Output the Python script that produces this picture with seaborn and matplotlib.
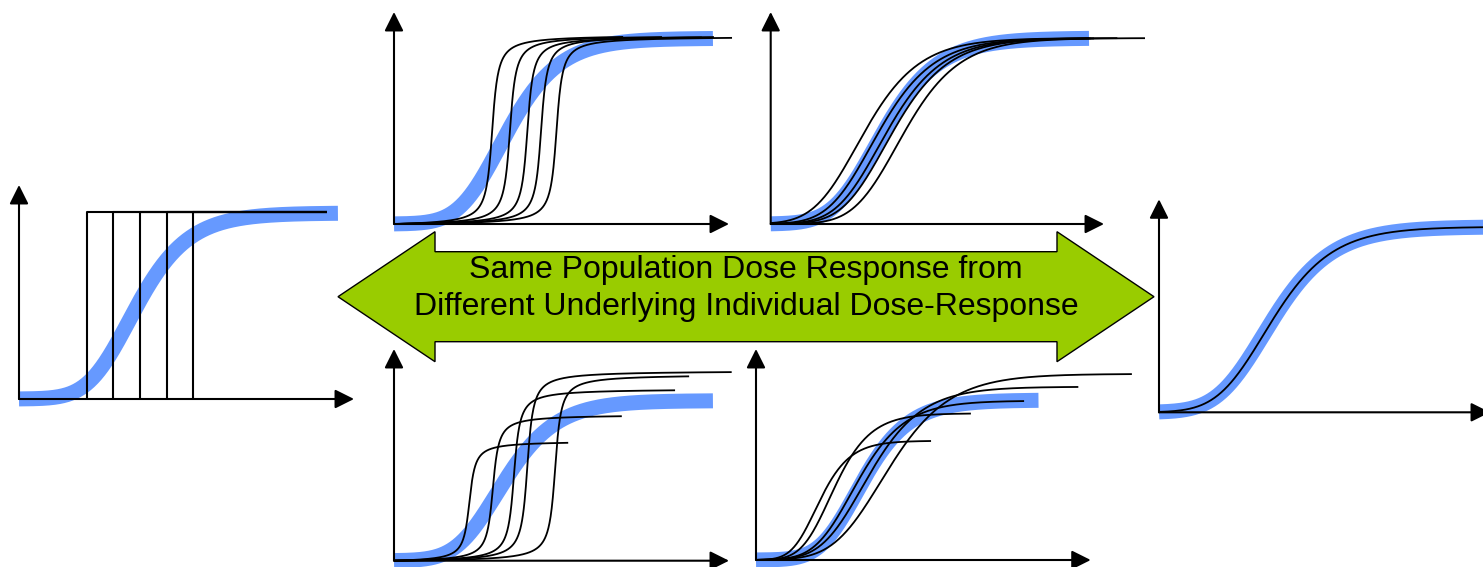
import numpy as np
import matplotlib
matplotlib.use("Agg")
import matplotlib.pyplot as plt
import matplotlib.patches as mpatches
import seaborn as sns

W, H = 1483, 567
BLUE = "#6699FF"
GREEN = "#99CC00"

# panel frames in pixels: origin x, origin y, x-arrow tip, y-arrow tip
panel_names = ["steps", "steep", "shifted", "steep_plateau", "mixed", "single"]
panel_x0 = [19, 394, 770.7, 394, 756, 1159]
panel_y0 = [399, 224, 224, 560.7, 560, 412.3]
panel_xt = [354, 729, 1104, 729, 1090.7, 1490]
panel_yt = [185, 12, 12, 349, 349, 199.3]

# population (blue) curve in each panel, axis units
blue_mid = [0.352, 0.340, 0.340, 0.331, 0.321, 0.344]
blue_s = [0.095, 0.095, 0.10, 0.095, 0.085, 0.11]
blue_top = [0.869, 0.876, 0.877, 0.756, 0.758, 0.871]
blue_end = [0.952, 0.952, 0.955, 0.952, 0.844, 1.0]
blue_nu = 0.3

# panel A: all-or-none individuals
step_u = [0.203, 0.282, 0.361, 0.441, 0.520]
step_top = 0.875
step_end = 0.918

# panel B: steep individuals, same max
b_mid = [0.293, 0.346, 0.398, 0.439, 0.485]
b_top = [0.892, 0.890, 0.887, 0.889, 0.885]
b_end = [0.684, 0.800, 0.919, 0.955, 1.009]
steep_s = 0.013

# panel C: shifted copies of population curve
c_mid = [0.283, 0.326, 0.350, 0.368, 0.403]
c_end = [1.040, 0.955, 0.960, 0.970, 1.123]
c_top = 0.877

# panel D: steep individuals, different max
d_mid = [0.225, 0.295, 0.358, 0.398, 0.481]
d_top = [0.565, 0.690, 0.812, 0.897, 0.880]
d_end = [0.520, 0.680, 0.839, 1.008, 0.881]

# panel E: graded individuals, different max
e_mid = [0.191, 0.236, 0.306, 0.341, 0.400]
e_s = [0.055, 0.065, 0.085, 0.095, 0.110]
e_top = [0.565, 0.695, 0.755, 0.821, 0.882]
e_end = [0.523, 0.642, 0.801, 0.963, 1.123]

label_lines = ["Same Population Dose Response from",
               "Different Underlying Individual Dose-Response"]


def richards(u, mid, s, top, nu):
    z0 = -np.log((2 ** nu - 1) / nu)
    z = (u - mid) / s + z0
    return top * (1 + nu * np.exp(-z)) ** (-1 / nu)


def steep(u, mid, s, top):
    f = np.arctan((u - mid) / s) / np.pi + 0.5
    f0 = np.arctan(-mid / s) / np.pi + 0.5
    return top * (f - f0) / (1 - f0)


def draw(ax, u, v, color="black", lw=1.3, z=3):
    sns.lineplot(x=u, y=v, ax=ax, color=color, linewidth=lw, clip_on=False,
                 zorder=z, solid_capstyle="butt", estimator=None, sort=False)


def curve(ax, mid, s, top, end, nu, color="black", lw=1.3, z=3):
    u = np.linspace(0, end, 400)
    draw(ax, u, richards(u, mid, s, top, nu), color, lw, z)


def steep_curve(ax, mid, top, end):
    u = np.linspace(0, end, 800)
    draw(ax, u, steep(u, mid, steep_s, top))


def make_panel(fig, i):
    x0, y0, xt, yt = panel_x0[i], panel_y0[i], panel_xt[i], panel_yt[i]
    ax = fig.add_axes([x0 / W, 1 - y0 / H, (xt - x0) / W, (y0 - yt) / H])
    ax.set_xlim(0, 1)
    ax.set_ylim(0, 1)
    ax.axis("off")
    ap = dict(arrowstyle="-|>,head_length=0.4,head_width=0.2", mutation_scale=29,
              lw=1.5, color="black", shrinkA=0, shrinkB=0)
    ax.annotate("", xy=(1, 0), xytext=(0, 0), arrowprops=ap, annotation_clip=False, zorder=4)
    ax.annotate("", xy=(0, 1), xytext=(0, 0), arrowprops=ap, annotation_clip=False, zorder=4)
    curve(ax, blue_mid[i], blue_s[i], blue_top[i], blue_end[i], blue_nu,
          color=BLUE, lw=10.8, z=2)
    return ax


sns.set_theme(style="white")
plt.rcParams["font.family"] = ["Liberation Sans", "DejaVu Sans"]
fig = plt.figure(figsize=(W / 100, H / 100), dpi=100)

# background layer: big double arrow with caption
bg = fig.add_axes([0, 0, 1, 1])
bg.set_xlim(0, W)
bg.set_ylim(H, 0)
bg.axis("off")
cx, cy, half_len, head_len, shaft_h, head_h = 746, 296.7, 408, 97, 45, 65
verts = [(cx - half_len, cy), (cx - half_len + head_len, cy - head_h),
         (cx - half_len + head_len, cy - shaft_h), (cx + half_len - head_len, cy - shaft_h),
         (cx + half_len - head_len, cy - head_h), (cx + half_len, cy),
         (cx + half_len - head_len, cy + head_h), (cx + half_len - head_len, cy + shaft_h),
         (cx - half_len + head_len, cy + shaft_h), (cx - half_len + head_len, cy + head_h)]
bg.add_patch(mpatches.Polygon(verts, closed=True, fc=GREEN, ec="black", lw=1.0))
bg.text(cx, 278.3, label_lines[0], ha="center", va="baseline", fontsize=23, color="black")
bg.text(cx, 315, label_lines[1], ha="center", va="baseline", fontsize=23, color="black")

# A: step responders
ax = make_panel(fig, 0)
for t in step_u:
    draw(ax, [t, t, step_end], [0, step_top, step_top], lw=1.5)

# B
ax = make_panel(fig, 1)
for m, tp, e in zip(b_mid, b_top, b_end):
    steep_curve(ax, m, tp, e)

# C
ax = make_panel(fig, 2)
for m, e in zip(c_mid, c_end):
    curve(ax, m, blue_s[2], c_top, e, blue_nu)

# D
ax = make_panel(fig, 3)
for m, tp, e in zip(d_mid, d_top, d_end):
    steep_curve(ax, m, tp, e)

# E
ax = make_panel(fig, 4)
for m, s, tp, e in zip(e_mid, e_s, e_top, e_end):
    curve(ax, m, s, tp, e, blue_nu)

# F
ax = make_panel(fig, 5)
curve(ax, blue_mid[5], blue_s[5], blue_top[5], blue_end[5], blue_nu)

fig.savefig("out.png", dpi=100)
